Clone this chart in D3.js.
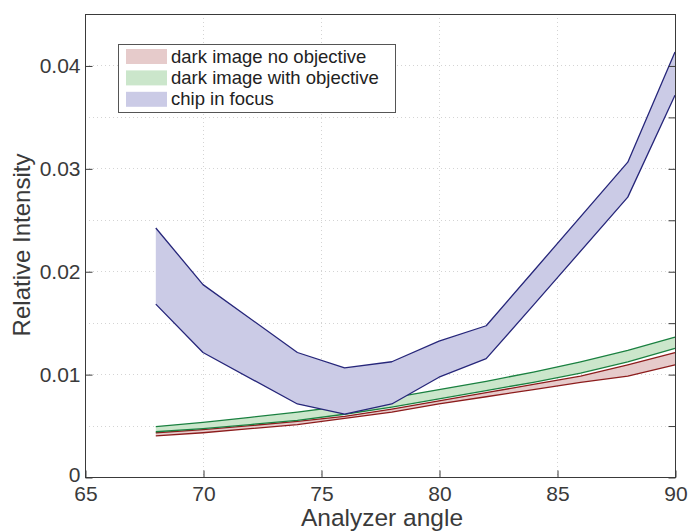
<!DOCTYPE html>
<html>
<head>
<meta charset="utf-8">
<script src="https://cdn.jsdelivr.net/npm/d3@7/dist/d3.min.js"></script>
<style>
  html, body { margin: 0; padding: 0; background: #fff; }
  svg { display: block; font-family: "Liberation Sans", Arial, Helvetica, sans-serif; }
</style>
</head>
<body>
<svg id="chart" width="690" height="531"></svg>
<script>
// Analyzer angle sample points
const anglesDark = [68, 70, 72, 74, 76, 78, 80, 82, 84, 86, 88, 90];
const anglesChip = [68, 70, 74, 76, 78, 80, 82, 84, 88, 90];

// Dark image, no objective: lower / upper bounds
const noObjLow  = [0.0040, 0.0043, 0.0047, 0.0051, 0.0057, 0.0063, 0.0071, 0.0078, 0.0085, 0.0092, 0.0098, 0.0109];
const noObjHigh = [0.0043, 0.0046, 0.0050, 0.0054, 0.0059, 0.0066, 0.0074, 0.0082, 0.0090, 0.0098, 0.0109, 0.0121];

// Dark image, with objective: lower / upper bounds
const withObjLow  = [0.0044, 0.0047, 0.0051, 0.0055, 0.0061, 0.0068, 0.0076, 0.0084, 0.0092, 0.0101, 0.0112, 0.0125];
const withObjHigh = [0.0049, 0.0053, 0.0058, 0.0063, 0.0069, 0.0077, 0.0085, 0.0093, 0.0102, 0.0112, 0.0123, 0.0136];

// Chip in focus: lower / upper bounds
const chipLow  = [0.0168, 0.0121, 0.0071, 0.0061, 0.0071, 0.0097, 0.0115, 0.0167, 0.0272, 0.0371];
const chipHigh = [0.0242, 0.0187, 0.0121, 0.0106, 0.0112, 0.0132, 0.0147, 0.0200, 0.0306, 0.0413];

const seriesNames = ["dark image no objective", "dark image with objective", "chip in focus"];
const xTicks = [65, 70, 75, 80, 85, 90];
const yTicks = [0, 0.01, 0.02, 0.03, 0.04];
const yMinorTicks = [0, 0.005, 0.01, 0.015, 0.02, 0.025, 0.03, 0.035, 0.04];
const xLabel = "Analyzer angle";
const yLabel = "Relative Intensity";

const fills = ["#e6cbcb", "#cbe6cb", "#cbcbe6"];
const strokes = ["#8c1c1c", "#1a8040", "#26267a"];

const svg = d3.select("#chart");
const plotL = 85, plotR = 675, plotT = 14, plotB = 477;

const x = d3.scaleLinear().domain([65, 90]).range([plotL, plotR]);
const y = d3.scaleLinear().domain([0, 0.045]).range([plotB, plotT]);

// Dotted grid
const grid = svg.append("g").attr("stroke", "#d4d4d4").attr("stroke-width", 1).attr("stroke-dasharray", "1,3");
grid.selectAll("line.h").data(yMinorTicks.filter(v => v > 0)).enter().append("line")
  .attr("x1", plotL).attr("x2", plotR)
  .attr("y1", d => Math.round(y(d)) + 0.5).attr("y2", d => Math.round(y(d)) + 0.5);
grid.selectAll("line.v").data(xTicks.filter(v => v > 65 && v < 90)).enter().append("line")
  .attr("y1", plotT).attr("y2", plotB)
  .attr("x1", d => Math.round(x(d)) + 0.5).attr("x2", d => Math.round(x(d)) + 0.5);

// Bands
const bands = [
  { xs: anglesDark, lo: noObjLow, hi: noObjHigh },
  { xs: anglesDark, lo: withObjLow, hi: withObjHigh },
  { xs: anglesChip, lo: chipLow, hi: chipHigh }
];

bands.forEach((b, i) => {
  const pts = b.xs.map((a, k) => ({ a, lo: b.lo[k], hi: b.hi[k] }));
  const area = d3.area().x(d => x(d.a)).y0(d => y(d.lo)).y1(d => y(d.hi));
  svg.append("path").datum(pts).attr("d", area).attr("fill", fills[i]).attr("stroke", "none");
  const lineLo = d3.line().x(d => x(d.a)).y(d => y(d.lo));
  const lineHi = d3.line().x(d => x(d.a)).y(d => y(d.hi));
  [lineLo, lineHi].forEach(l => {
    svg.append("path").datum(pts).attr("d", l)
      .attr("fill", "none").attr("stroke", strokes[i]).attr("stroke-width", 1.3)
      .attr("stroke-linejoin", "round");
  });
});

// Axes frame
const axisColor = "#3a3a3a";
svg.append("rect").attr("x", plotL + 0.5).attr("y", plotT + 0.5)
  .attr("width", plotR - plotL).attr("height", plotB - plotT)
  .attr("fill", "none").attr("stroke", axisColor).attr("stroke-width", 1);

// Bottom axis ticks (inward) and labels
const xAxis = d3.axisBottom(x).tickValues(xTicks).tickSizeInner(-7).tickSizeOuter(0).tickPadding(9);
const gx = svg.append("g").attr("transform", `translate(0.5,${plotB + 0.5})`).call(xAxis);
gx.select(".domain").remove();
gx.selectAll(".tick line").attr("stroke", axisColor);
gx.selectAll(".tick text").attr("fill", "#3a3a3a").attr("font-size", 21)
  .attr("font-family", "Liberation Sans, Arial, sans-serif");

// Left axis ticks (inward) and labels
const yAxis = d3.axisLeft(y).tickValues(yTicks).tickFormat(d => d === 0 ? "0" : d3.format(".2f")(d))
  .tickSizeInner(-7).tickSizeOuter(0).tickPadding(5);
const gy = svg.append("g").attr("transform", `translate(${plotL + 0.5},0.5)`).call(yAxis);
gy.select(".domain").remove();
gy.selectAll(".tick line").attr("stroke", axisColor);
gy.selectAll(".tick text").attr("fill", "#3a3a3a").attr("font-size", 21)
  .attr("font-family", "Liberation Sans, Arial, sans-serif");
// The zero label sits slightly higher so it clears the first angle label
gy.selectAll(".tick text").filter(d => d === 0).attr("y", -3);

// Right-side ticks
const yRight = d3.axisRight(y).tickValues(yMinorTicks).tickFormat("").tickSizeInner(-7).tickSizeOuter(0);
const gr = svg.append("g").attr("transform", `translate(${plotR + 0.5},0.5)`).call(yRight);
gr.select(".domain").remove();
gr.selectAll(".tick line").attr("stroke", axisColor);

// Axis titles
svg.append("text").attr("x", 382).attr("y", 526)
  .attr("text-anchor", "middle").attr("font-size", 24.5).attr("fill", "#3a3a3a").text(xLabel);
svg.append("text").attr("transform", `translate(30,245) rotate(-90)`)
  .attr("text-anchor", "middle").attr("font-size", 24).attr("fill", "#3a3a3a").text(yLabel);

// Legend
const lg = svg.append("g");
lg.append("rect").attr("x", 118.5).attr("y", 44.5).attr("width", 277).attr("height", 68)
  .attr("fill", "#fff").attr("stroke", "#555").attr("stroke-width", 1);
seriesNames.forEach((name, i) => {
  const cy = 56.5 + i * 21.4;
  lg.append("rect").attr("x", 126).attr("y", cy - 7.5).attr("width", 41).attr("height", 15)
    .attr("fill", fills[i]);
  lg.append("text").attr("x", 171).attr("y", cy + 6).attr("font-size", 18.5)
    .attr("fill", "#222").text(name);
});
</script>
</body>
</html>
